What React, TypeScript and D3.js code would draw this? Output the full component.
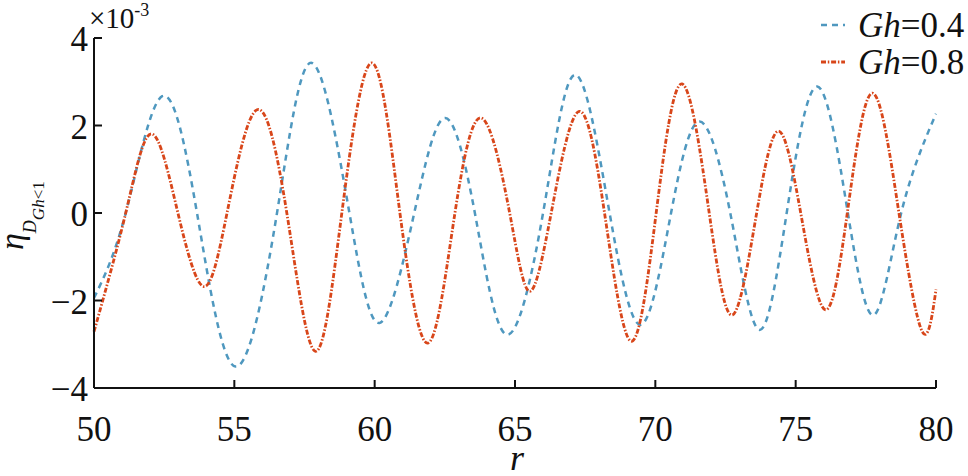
import React from "react";
import * as d3 from "d3";

// r positions (x-axis) and eta values (in units of 1e-3)
const rGh04 = [50, 51.13, 52.43, 53.67, 55.04, 56.52, 57.76, 59.1, 60.19, 61.41, 62.5, 63.57, 64.7, 66.0, 67.15, 68.37, 69.5, 70.56, 71.57, 72.67, 73.7, 74.68, 75.77, 76.86, 77.79, 78.76, 80];
const etaGh04 = [-1.94, 0, 2.67, 0, -3.51, 0, 3.43, 0, -2.51, 0, 2.17, 0, -2.78, 0, 3.16, 0, -2.55, 0, 2.09, 0, -2.67, 0, 2.89, 0, -2.33, 0, 2.27];

const rGh08 = [50, 51.13, 52.05, 52.99, 53.91, 54.74, 55.81, 56.87, 57.88, 58.83, 59.9, 60.9, 61.91, 62.86, 63.81, 64.81, 65.52, 66.29, 67.27, 68.19, 69.14, 70.03, 70.95, 71.92, 72.75, 73.61, 74.39, 75.18, 76.05, 76.84, 77.73, 78.68, 79.51, 80];
const etaGh08 = [-2.71, 0, 1.81, 0, -1.68, 0, 2.36, 0, -3.16, 0, 3.43, 0, -2.97, 0, 2.17, 0, -1.79, 0, 2.32, 0, -2.93, 0, 2.95, 0, -2.33, 0, 1.87, 0, -2.21, 0, 2.74, 0, -2.71, -1.75];

const xTicks = [50, 55, 60, 65, 70, 75, 80];
const yTicks = [-4, -2, 0, 2, 4];
const seriesLabels = ["0.4", "0.8"];

const W = 968;
const H = 476;
const FONT = "'Liberation Serif', 'Tinos', 'Times New Roman', Times, 'DejaVu Serif', serif";
const BLUE = "#4f98bf";
const RED = "#d8461a";

export default function App() {
  const x = d3.scaleLinear().domain([50, 80]).range([94, 936]);
  const y = d3.scaleLinear().domain([-4, 4]).range([388, 38]);

  const line = d3
    .line<[number, number]>()
    .x((d) => x(d[0]))
    .y((d) => y(d[1]))
    .curve(d3.curveNatural);

  const d04 = line(rGh04.map((r, i) => [r, etaGh04[i]] as [number, number])) || "";
  const d08 = line(rGh08.map((r, i) => [r, etaGh08[i]] as [number, number])) || "";

  const fmt = d3.format("d");

  const series = [
    { label: seriesLabels[0], color: BLUE, dash: "6 5", width: 2.5 },
    { label: seriesLabels[1], color: RED, dash: "5 1.8 1.5 1.8", width: 2.8 },
  ];

  const ts = { fontFamily: FONT };

  return (
    <svg
      width={W}
      height={H}
      viewBox={`0 0 ${W} ${H}`}
      style={{ position: "absolute", left: 0, top: 0, display: "block", background: "#fff" }}
    >
      <rect x={0} y={0} width={W} height={H} fill="#fff" />

      {/* curves */}
      <path d={d04} fill="none" stroke={BLUE} strokeWidth={series[0].width} strokeDasharray={series[0].dash} />
      <path d={d08} fill="none" stroke={RED} strokeWidth={series[1].width} strokeDasharray={series[1].dash} />

      {/* axes */}
      <line x1={x(50)} x2={x(80)} y1={y(-4)} y2={y(-4)} stroke="#111" strokeWidth={2} />
      <line x1={x(50)} x2={x(50)} y1={y(-4)} y2={y(4)} stroke="#111" strokeWidth={2} />

      {xTicks.map((t) => (
        <g key={"x" + t}>
          <line x1={x(t)} x2={x(t)} y1={y(-4)} y2={y(-4) - 8} stroke="#111" strokeWidth={2} />
          <text x={x(t)} y={441} textAnchor="middle" fontSize={35} fill="#111" style={ts}>
            {fmt(t)}
          </text>
        </g>
      ))}
      {yTicks.map((t) => (
        <g key={"y" + t}>
          <line x1={x(50)} x2={x(50) + 8} y1={y(t)} y2={y(t)} stroke="#111" strokeWidth={2} />
          <text x={88} y={y(t) + 13} textAnchor="end" fontSize={35} fill="#111" style={ts}>
            {fmt(t)}
          </text>
        </g>
      ))}

      {/* exponent */}
      <text x={89} y={28} fontSize={29} fill="#111" style={ts}>
        ×10
        <tspan fontSize={18} dy={-12}>-3</tspan>
      </text>

      {/* x title */}
      <text x={517} y={470} textAnchor="middle" fontSize={36} fontStyle="italic" fill="#111" style={ts}>
        r
      </text>

      {/* y title */}
      <text transform="translate(23,250) rotate(-90)" fill="#111" style={ts}>
        <tspan fontSize={34} fontStyle="italic">η</tspan>
        <tspan fontSize={18} fontStyle="italic" dy={13}>D</tspan>
        <tspan fontSize={17} fontStyle="italic" dy={8}>Gh</tspan>
        <tspan fontSize={17}>&lt;1</tspan>
      </text>

      {/* legend */}
      {series.map((s, i) => (
        <g key={s.label}>
          <line
            x1={821}
            x2={845}
            y1={25 + i * 37}
            y2={25 + i * 37}
            stroke={s.color}
            strokeWidth={s.width}
            strokeDasharray={s.dash}
          />
          <text x={858} y={37 + i * 37} fontSize={35} fill="#111" style={ts}>
            <tspan fontStyle="italic">Gh</tspan>={s.label}
          </text>
        </g>
      ))}
    </svg>
  );
}
